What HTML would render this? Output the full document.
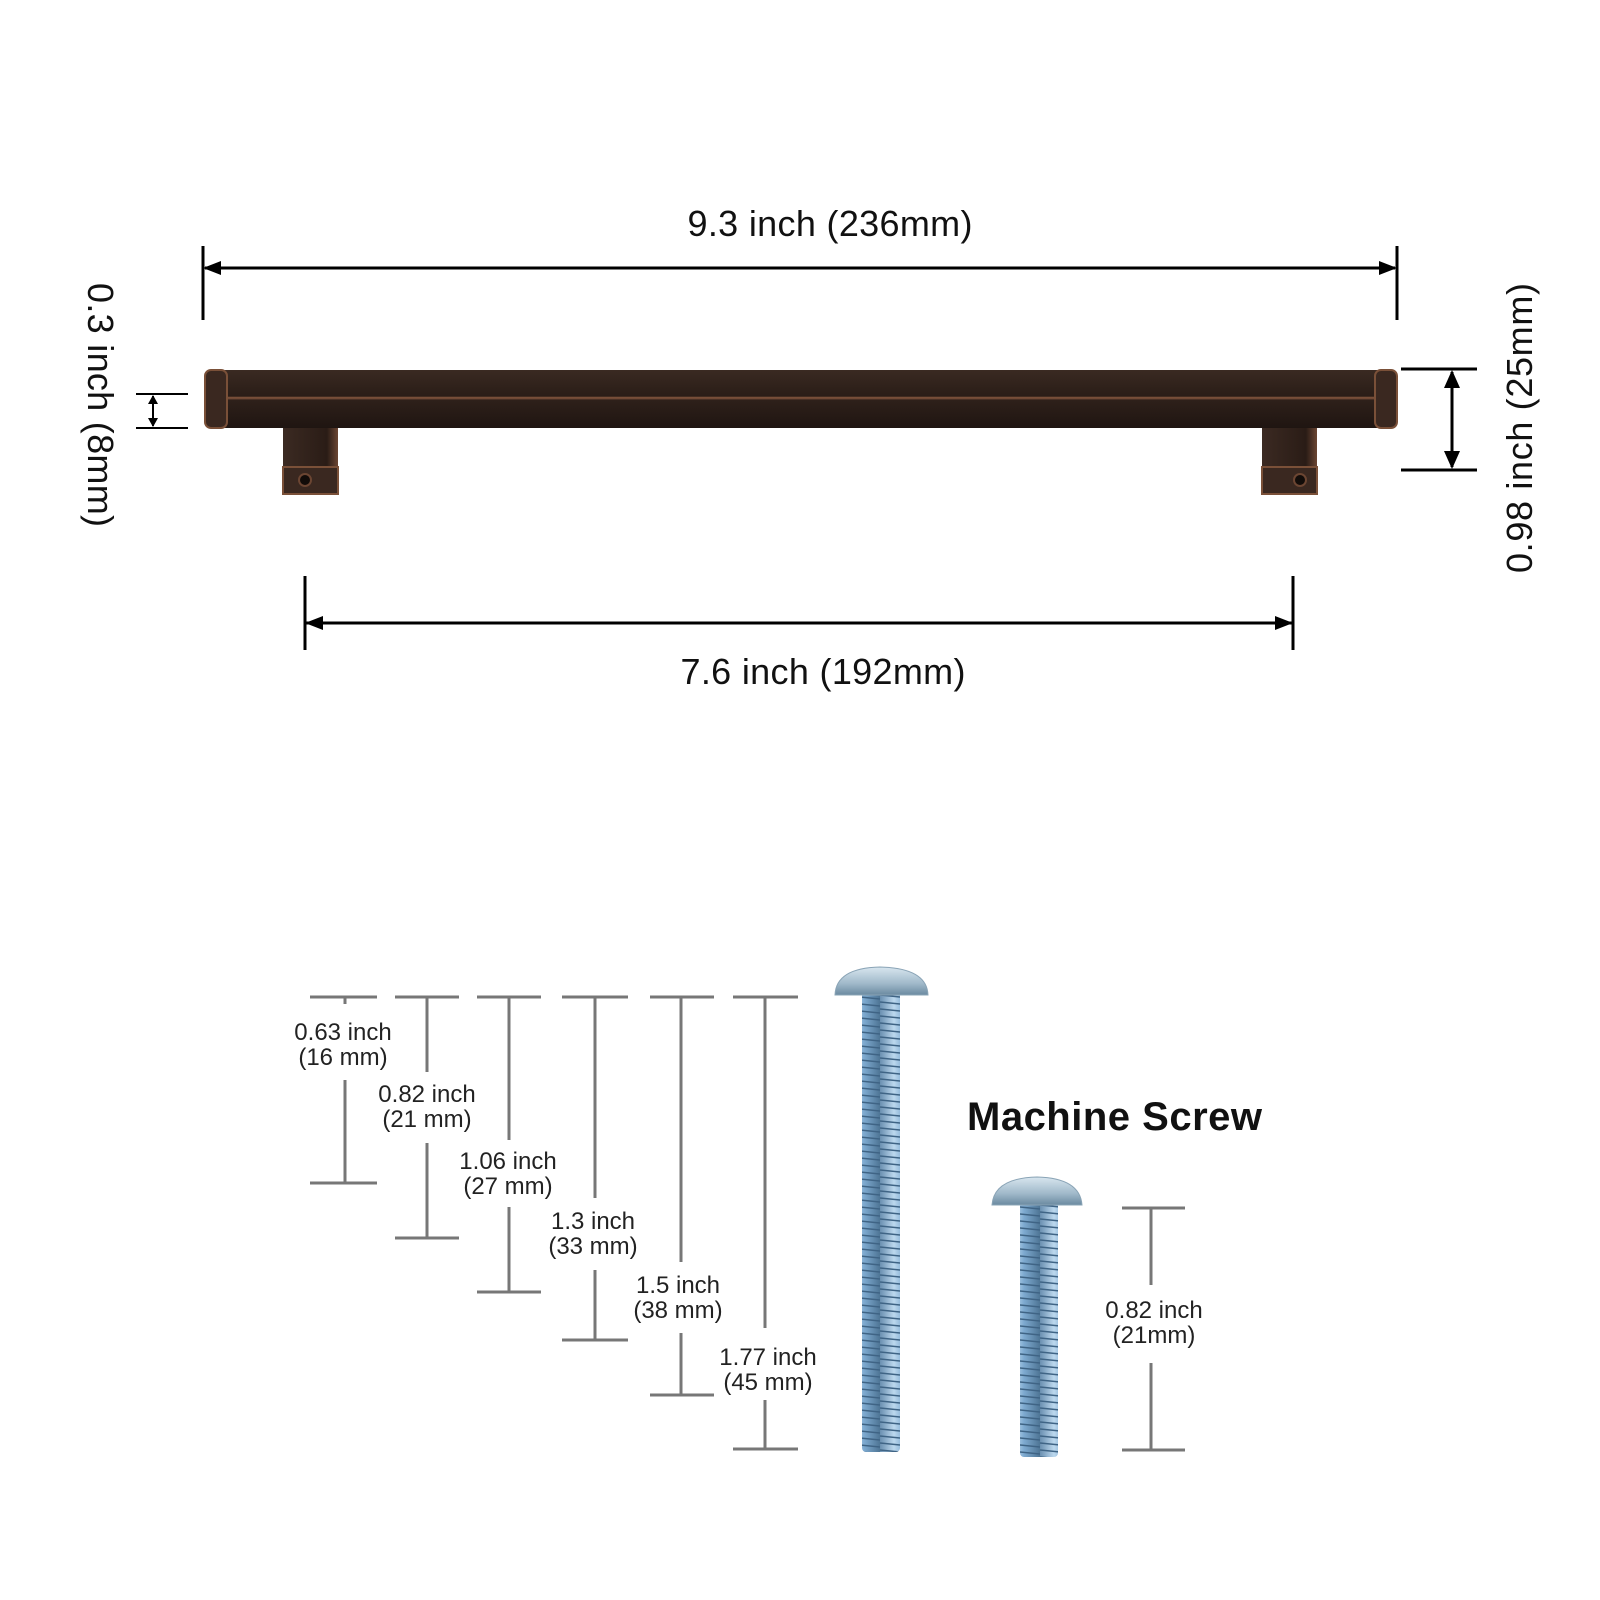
<!DOCTYPE html>
<html><head><meta charset="utf-8"><style>html,body{margin:0;padding:0;background:#fff}svg{display:block}</style></head>
<body>
<svg width="1600" height="1600" viewBox="0 0 1600 1600" xmlns="http://www.w3.org/2000/svg">
<defs>
<linearGradient id="bar" x1="0" y1="0" x2="0" y2="1">
<stop offset="0" stop-color="#3a2a22"/><stop offset="0.45" stop-color="#2a1d17"/><stop offset="0.48" stop-color="#8a5a40"/><stop offset="0.52" stop-color="#2e201a"/><stop offset="1" stop-color="#1f1511"/>
</linearGradient>
<linearGradient id="leg" x1="0" y1="0" x2="1" y2="0">
<stop offset="0" stop-color="#3b2a22"/><stop offset="0.8" stop-color="#2a1c16"/><stop offset="1" stop-color="#6b4532"/>
</linearGradient>
<linearGradient id="scr" x1="0" y1="0" x2="1" y2="0">
<stop offset="0" stop-color="#6a8fb0"/><stop offset="0.35" stop-color="#bcd8ee"/><stop offset="0.6" stop-color="#7eaad0"/><stop offset="1" stop-color="#4e7595"/>
</linearGradient>
<pattern id="thr" width="40" height="7" patternUnits="userSpaceOnUse">
<rect width="40" height="7" fill="url(#scr)"/><line x1="0" y1="1" x2="40" y2="5" stroke="#3f6485" stroke-width="1.6"/>
</pattern>
<linearGradient id="head" x1="0" y1="0" x2="0" y2="1">
<stop offset="0" stop-color="#d8e6ef"/><stop offset="0.6" stop-color="#9fb8c9"/><stop offset="1" stop-color="#6b8aa0"/>
</linearGradient>
</defs>
<g font-family="'Liberation Sans', 'DejaVu Sans', sans-serif" fill="#111">
<!-- top dimension -->
<line x1="203" y1="246" x2="203" y2="320" stroke="#000" stroke-width="3"/>
<line x1="1397" y1="246" x2="1397" y2="320" stroke="#000" stroke-width="3"/>
<line x1="205" y1="268" x2="1395" y2="268" stroke="#000" stroke-width="3"/>
<path d="M203 268 L221 261 L221 275Z M1397 268 L1379 261 L1379 275Z" fill="#000"/>
<text x="830" y="236" font-size="36" text-anchor="middle" textLength="285">9.3 inch (236mm)</text>
<!-- handle -->
<rect x="283" y="400" width="55" height="94" fill="url(#leg)" rx="2"/>
<rect x="283" y="467" width="55" height="27" fill="#3a2820" stroke="#7a5038" stroke-width="2"/>
<circle cx="305" cy="480" r="6" fill="#120c09" stroke="#6b4532" stroke-width="2"/>
<rect x="1262" y="400" width="55" height="94" fill="url(#leg)" rx="2"/>
<rect x="1262" y="467" width="55" height="27" fill="#3a2820" stroke="#7a5038" stroke-width="2"/>
<circle cx="1300" cy="480" r="6" fill="#120c09" stroke="#6b4532" stroke-width="2"/>
<rect x="205" y="370" width="1192" height="58" rx="6" fill="url(#bar)"/>
<rect x="205" y="370" width="22" height="58" rx="6" fill="#3a2820" stroke="#7a5038" stroke-width="2"/>
<rect x="1375" y="370" width="22" height="58" rx="6" fill="#3a2820" stroke="#7a5038" stroke-width="2"/>
<!-- bottom dimension -->
<line x1="305" y1="576" x2="305" y2="650" stroke="#000" stroke-width="3"/>
<line x1="1293" y1="576" x2="1293" y2="650" stroke="#000" stroke-width="3"/>
<line x1="305" y1="623" x2="1293" y2="623" stroke="#000" stroke-width="3"/>
<path d="M305 623 L323 616 L323 630Z M1293 623 L1275 616 L1275 630Z" fill="#000"/>
<text x="823" y="684" font-size="36" text-anchor="middle" textLength="285">7.6 inch (192mm)</text>
<!-- left 0.3 -->
<line x1="136" y1="394" x2="188" y2="394" stroke="#000" stroke-width="2"/>
<line x1="136" y1="428" x2="188" y2="428" stroke="#000" stroke-width="2"/>
<line x1="153" y1="396" x2="153" y2="426" stroke="#000" stroke-width="2"/>
<path d="M153 395 L148 404 L158 404Z M153 427 L148 418 L158 418Z" fill="#000"/>
<text transform="translate(88,405) rotate(90)" font-size="36" text-anchor="middle" textLength="244">0.3 inch (8mm)</text>
<!-- right 0.98 -->
<line x1="1401" y1="369" x2="1477" y2="369" stroke="#000" stroke-width="3"/>
<line x1="1401" y1="470" x2="1477" y2="470" stroke="#000" stroke-width="3"/>
<line x1="1452" y1="372" x2="1452" y2="467" stroke="#000" stroke-width="3"/>
<path d="M1452 370 L1444 388 L1460 388Z M1452 469 L1444 451 L1460 451Z" fill="#000"/>
<text transform="translate(1532,428) rotate(-90)" font-size="36" text-anchor="middle" textLength="290">0.98 inch (25mm)</text>
<!-- screw dims -->
<g stroke="#777" stroke-width="3">
<line x1="310" y1="997" x2="377" y2="997"/><line x1="345" y1="997" x2="345" y2="1004"/><line x1="345" y1="1080" x2="345" y2="1183"/><line x1="310" y1="1183" x2="377" y2="1183"/>
<line x1="395" y1="997" x2="459" y2="997"/><line x1="427" y1="997" x2="427" y2="1072"/><line x1="427" y1="1143" x2="427" y2="1238"/><line x1="395" y1="1238" x2="459" y2="1238"/>
<line x1="477" y1="997" x2="541" y2="997"/><line x1="509" y1="997" x2="509" y2="1140"/><line x1="509" y1="1207" x2="509" y2="1292"/><line x1="477" y1="1292" x2="541" y2="1292"/>
<line x1="562" y1="997" x2="628" y2="997"/><line x1="595" y1="997" x2="595" y2="1198"/><line x1="595" y1="1270" x2="595" y2="1340"/><line x1="562" y1="1340" x2="628" y2="1340"/>
<line x1="650" y1="997" x2="714" y2="997"/><line x1="681" y1="997" x2="681" y2="1262"/><line x1="681" y1="1333" x2="681" y2="1395"/><line x1="650" y1="1395" x2="714" y2="1395"/>
<line x1="733" y1="997" x2="798" y2="997"/><line x1="765" y1="997" x2="765" y2="1328"/><line x1="765" y1="1400" x2="765" y2="1449"/><line x1="733" y1="1449" x2="798" y2="1449"/>
<line x1="1122" y1="1208" x2="1185" y2="1208"/><line x1="1151" y1="1208" x2="1151" y2="1285"/><line x1="1151" y1="1363" x2="1151" y2="1450"/><line x1="1122" y1="1450" x2="1185" y2="1450"/>
</g>
<g font-size="24" text-anchor="middle" fill="#222">
<text x="343" y="1040">0.63 inch</text><text x="343" y="1065">(16 mm)</text>
<text x="427" y="1102">0.82 inch</text><text x="427" y="1127">(21 mm)</text>
<text x="508" y="1169">1.06 inch</text><text x="508" y="1194">(27 mm)</text>
<text x="593" y="1229">1.3 inch</text><text x="593" y="1254">(33 mm)</text>
<text x="678" y="1293">1.5 inch</text><text x="678" y="1318">(38 mm)</text>
<text x="768" y="1365">1.77 inch</text><text x="768" y="1390">(45 mm)</text>
<text x="1154" y="1318">0.82 inch</text><text x="1154" y="1343">(21mm)</text>
</g>
<text x="967" y="1130" font-size="40" font-weight="bold" textLength="295" fill="#111">Machine Screw</text>
<!-- screws -->
<rect x="862" y="990" width="38" height="462" fill="url(#thr)" rx="4"/>
<path d="M835 995 Q836 968 880 967 Q927 968 928 995 Z" fill="url(#head)" stroke="#8aa4b6" stroke-width="1"/>
<rect x="1020" y="1200" width="38" height="257" fill="url(#thr)" rx="4"/>
<path d="M992 1205 Q994 1178 1037 1177 Q1080 1178 1082 1205 Z" fill="url(#head)" stroke="#8aa4b6" stroke-width="1"/>
</g>
</svg>
</body></html>
